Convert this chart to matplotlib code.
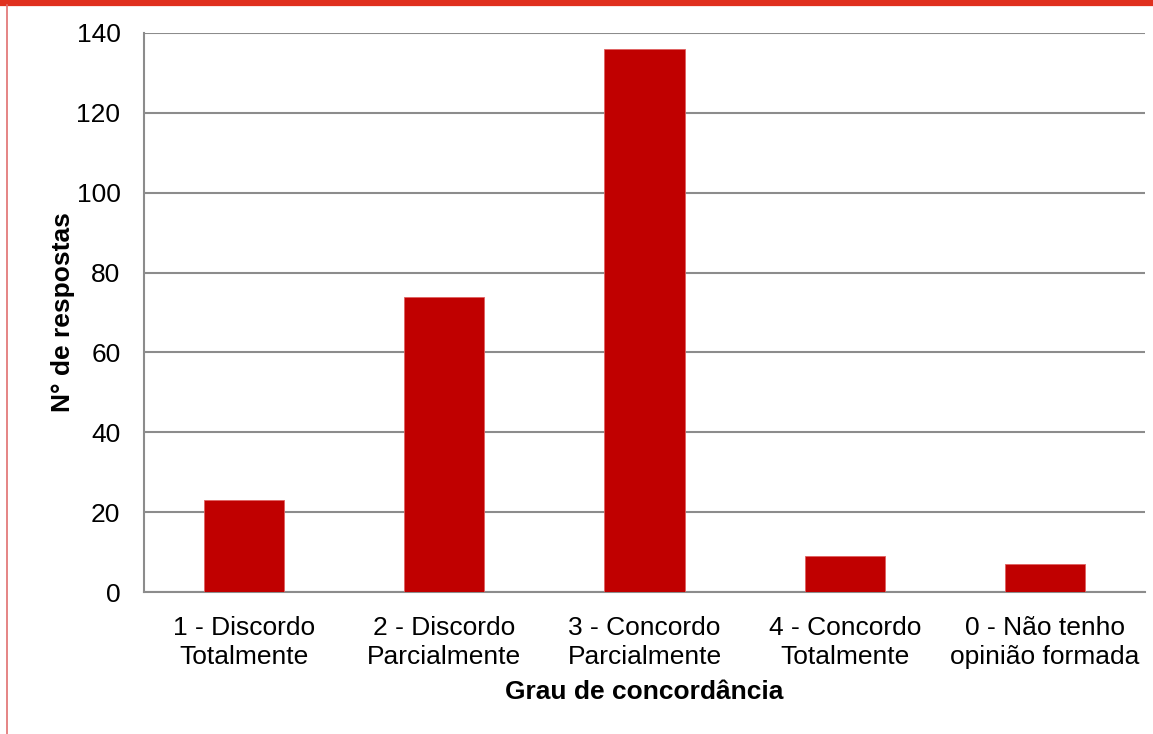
import matplotlib
matplotlib.use("Agg")
import matplotlib.pyplot as plt
from matplotlib.lines import Line2D

categories = ["1 - Discordo\nTotalmente", "2 - Discordo\nParcialmente", "3 - Concordo\nParcialmente",
              "4 - Concordo\nTotalmente", "0 - Não tenho\nopinião formada"]
respostas = [23, 74, 136, 9, 7]
yticks = [0, 20, 40, 60, 80, 100, 120, 140]

plt.rcParams['font.family'] = ['Liberation Sans', 'DejaVu Sans']

fig = plt.figure(figsize=(11.53, 7.34), dpi=100)
ax = fig.add_axes([144/1153, 1-592/734, (1145-144)/1153, (592-33)/734])

x = range(len(categories))
ax.bar(x, respostas, width=0.4, color="#c00000", edgecolor="#e06060", linewidth=0.6, zorder=3)

ax.set_xlim(-0.5, len(categories)-0.5)
ax.set_ylim(0, 140)
ax.set_yticks(yticks)
ax.yaxis.grid(True, color="#8c8c8c", linewidth=1.5, zorder=0)
ax.set_xticks(list(x))
ax.set_xticklabels(categories, fontsize=19, linespacing=1.3)
ax.tick_params(axis='y', labelsize=19, length=0, pad=17)
ax.tick_params(axis='x', length=0, pad=17)
for s in ['top', 'right']:
    ax.spines[s].set_visible(False)
for s in ['left', 'bottom']:
    ax.spines[s].set_color("#8c8c8c")
    ax.spines[s].set_linewidth(1.5)

ax.set_xlabel("Grau de concordância", fontsize=19, fontweight='bold', labelpad=8)
ax.set_ylabel("N° de respostas", fontsize=19, fontweight='bold', labelpad=1)

# red frame of the slide
fig.add_artist(Line2D([0, 1], [1-3/734, 1-3/734], color="#e0301e", linewidth=4.5, transform=fig.transFigure))
fig.add_artist(Line2D([7/1153, 7/1153], [0, 1-5/734], color="#e07070", linewidth=1.2, transform=fig.transFigure))

fig.savefig("out.png", dpi=100)
